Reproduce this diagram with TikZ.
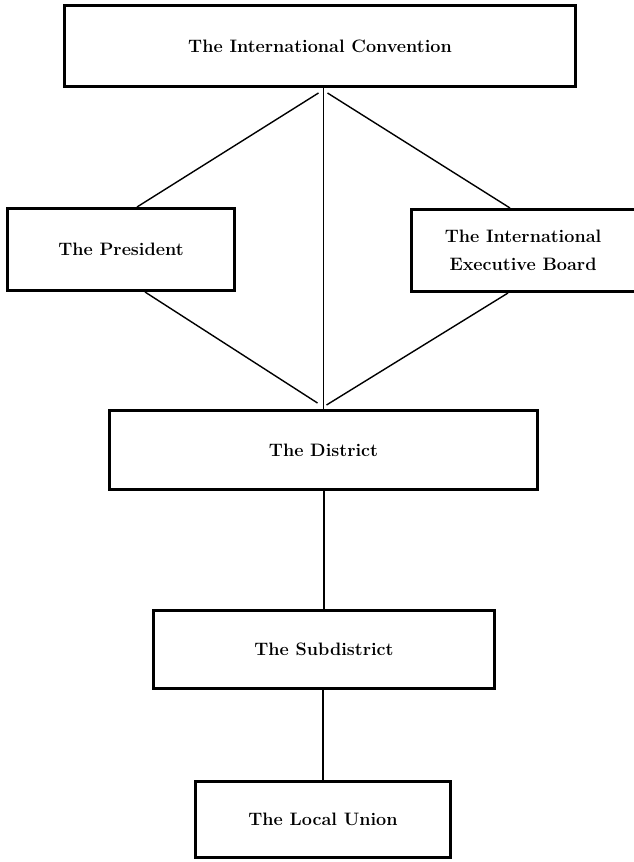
\documentclass[tikz,border=0pt]{standalone}
\usetikzlibrary{positioning}
\begin{document}
\begin{tikzpicture}[x=1pt,y=-1pt,
  box/.style={draw,rectangle,line width=3pt,align=center,
    font=\fontsize{18}{28}\selectfont\bfseries},
  link/.style={line width=1.4pt}]

  \useasboundingbox (0,0) rectangle (633,862);

  % International level
  \node[box,minimum width=511pt,minimum height=81pt] (conv) at (320,46) {The International Convention};
  \node[box,minimum width=227pt,minimum height=82pt] (pres) at (121,249.5) {The President};
  \node[box,minimum width=224pt,minimum height=82pt] (ieb)  at (523,250.5) {The International\\Executive Board};

  % Lower levels
  \node[box,minimum width=428pt,minimum height=79pt] (district) at (323.5,450)   {The District};
  \node[box,minimum width=341pt,minimum height=78pt] (subdist)  at (324,649.5)   {The Subdistrict};
  \node[box,minimum width=255pt,minimum height=76pt] (local)    at (323,819.5)   {The Local Union};

  \begin{scope}[every path/.style={link}]
    \draw (conv.south -| district.north) -- (district.north);
    \draw ([xshift=-5pt,yshift=-5pt]conv.south -| district.north) -- ([xshift=16pt]pres.north);
    \draw ([xshift=4pt,yshift=-5pt]conv.south -| district.north) -- ([xshift=-13pt]ieb.north);
    \draw ([xshift=24pt]pres.south) -- ([xshift=-6pt,yshift=6pt]district.north);
    \draw ([xshift=-15pt]ieb.south) -- ([xshift=3pt,yshift=4pt]district.north);
    \draw (district.south -| subdist.north) -- (subdist.north);
    \draw (subdist.south -| local.north) -- (local.north);
  \end{scope}

\end{tikzpicture}
\end{document}
